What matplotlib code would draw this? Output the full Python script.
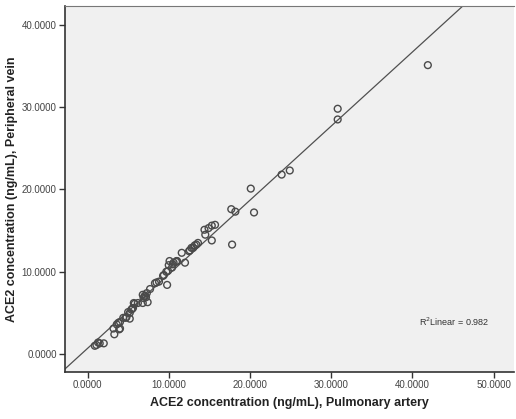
import matplotlib
matplotlib.use("Agg")
import matplotlib.pyplot as plt
import numpy as np

plt.rcParams['font.family'] = ['Liberation Sans', 'DejaVu Sans']

# ACE2 concentration (ng/mL)
pulmonary_artery = [
    41.9, 30.8, 30.8, 23.9, 24.9, 20.1, 20.5, 17.7, 18.2, 17.8,
    15.3, 15.7, 15.3, 14.9, 14.4, 14.5, 13.6, 13.4, 13.0, 12.6,
    12.5, 11.6, 12.0, 11.0, 10.6, 10.1, 10.0, 10.4, 9.7, 9.4,
    9.8, 9.3, 8.8, 8.5, 8.3, 7.7, 7.3, 7.1, 6.9, 6.8,
    7.0, 7.2, 7.4, 6.8, 6.2, 5.7, 5.8, 5.6, 5.4, 5.5,
    5.0, 5.2, 5.2, 4.8, 4.7, 4.4, 4.0, 3.8, 3.6, 4.0,
    3.2, 3.3, 3.9, 2.0, 1.5, 1.1, 0.9, 1.3, 10.9, 10.5,
    9.9, 11.0, 12.8, 13.2,
]
peripheral_vein = [
    35.1, 29.8, 28.5, 21.8, 22.3, 20.1, 17.2, 17.6, 17.3, 13.3,
    13.8, 15.7, 15.6, 15.3, 15.1, 14.5, 13.5, 13.3, 12.9, 12.6,
    12.5, 12.3, 11.1, 11.3, 11.1, 11.3, 10.8, 10.5, 10.0, 9.6,
    8.4, 9.5, 8.8, 8.7, 8.6, 7.9, 7.4, 7.1, 6.8, 7.2,
    7.0, 6.9, 6.3, 6.2, 6.2, 6.2, 6.1, 5.6, 5.4, 5.5,
    5.1, 5.0, 4.3, 4.5, 4.4, 4.4, 3.9, 3.8, 3.6, 3.1,
    3.1, 2.4, 3.0, 1.3, 1.3, 1.1, 1.0, 1.4, 11.2, 10.9,
    10.1, 11.3, 12.9, 13.2,
]
x_ticks = [0, 10, 20, 30, 40, 50]
y_ticks = [0, 10, 20, 30, 40]
r2_label = "R$^2$Linear = 0.982"

x = np.array(pulmonary_artery)
y = np.array(peripheral_vein)
slope, intercept = np.polyfit(x, y, 1)

fig = plt.figure(figsize=(5.16, 4.19), dpi=100)
ax = fig.add_axes([0.126, 0.112, 0.87, 0.874])
ax.set_facecolor('#f0f0f0')

xlim = (-2.77, 52.5)
ylim = (-2.19, 42.3)
xs = np.array(xlim)
ax.plot(xs, slope * xs + intercept, color='#505050', lw=0.9, zorder=2)
ax.scatter(x, y, s=24, facecolors='none', edgecolors='#4a4a4a', linewidths=1.0, zorder=3)

ax.set_xlim(*xlim)
ax.set_ylim(*ylim)
ax.set_xticks(x_ticks)
ax.set_yticks(y_ticks)
ax.set_xticklabels([f"{v:.4f}" for v in x_ticks])
ax.set_yticklabels([f"{v:.4f}" for v in y_ticks])
ax.tick_params(direction='out', length=4, width=1, color='#333333',
               labelsize=7, labelcolor='#444444', pad=2)

for s in ['left', 'bottom']:
    ax.spines[s].set_color('#333333')
    ax.spines[s].set_linewidth(1.2)
ax.spines['top'].set_color('#777777')
ax.spines['right'].set_visible(False)

ax.set_xlabel("ACE2 concentration (ng/mL), Pulmonary artery", fontsize=9,
              fontweight='bold', color='#222222', labelpad=5)
ax.set_ylabel("ACE2 concentration (ng/mL), Peripheral vein", fontsize=9,
              fontweight='bold', color='#222222', labelpad=3)

ax.text(40.8, 3.9, r2_label, fontsize=6.5, color='#333333', va='center')

fig.savefig("out.png", dpi=100)
